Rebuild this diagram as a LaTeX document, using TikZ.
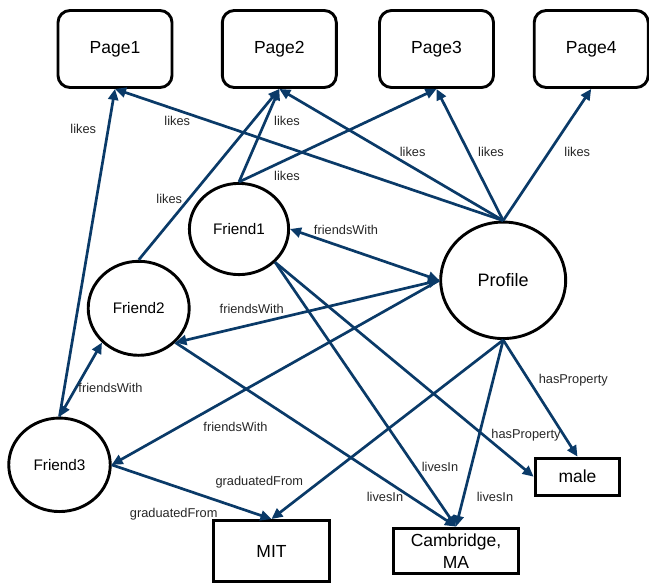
\documentclass[tikz,border=0pt]{standalone}
\usepackage{fontspec}
\setmainfont{Liberation Sans}
\usetikzlibrary{arrows.meta,shapes.geometric}
\definecolor{edgeblue}{RGB}{10,58,104}
\begin{document}
\begin{tikzpicture}[x=1pt,y=-1pt,
  page/.style={draw=black,line width=2.9pt,rounded corners=12pt,minimum width=114pt,minimum height=77pt,inner sep=0pt,font=\fontsize{17.5}{20}\selectfont},
  person/.style={draw=black,line width=2.9pt,ellipse,inner sep=0pt,font=\fontsize{15.3}{18}\selectfont},
  valbox/.style={draw=black,line width=2.9pt,rectangle,inner sep=0pt,align=center,font=\fontsize{17.5}{22}\selectfont},
  edge/.style={draw=edgeblue,line width=2.7pt},
  tip/.style={-{Triangle[length=11pt,width=10pt]}},
  both/.style={{Triangle[length=11pt,width=10pt]}-{Triangle[length=11pt,width=10pt]}},
  lbl/.style={inner sep=0pt,text=black!85,font=\fontsize{12.8}{14}\selectfont}
]
\useasboundingbox (0,0) rectangle (649,584);

% pages
\node[page] (p1) at (115,49) {Page1};
\node[page] (p2) at (279.3,49) {Page2};
\node[page] (p3) at (436.5,49) {Page3};
\node[page] (p4) at (591.2,49) {Page4};

% people
\node[person,minimum width=99.2pt,minimum height=91.2pt] (f1) at (239,229) {Friend1};
\node[person,minimum width=101pt,minimum height=94pt] (f2) at (138.7,308.3) {Friend2};
\node[person,minimum width=101.5pt,minimum height=93.5pt] (f3) at (59.5,464.8) {Friend3};
\node[person,minimum width=125pt,minimum height=116.5pt,font=\fontsize{18}{20}\selectfont] (pr) at (503.2,280.3) {Profile};

% values
\node[valbox,minimum width=116pt,minimum height=61pt] (mit) at (271.5,551) {MIT};
\node[valbox,minimum width=124.3pt,minimum height=45.5pt] (cam) at (456,550.8) {Cambridge,\\MA};
\node[valbox,minimum width=84.8pt,minimum height=37.2pt] (male) at (577.5,476.7) {male};

% likes
\draw[edge,tip] (f3.north) -- (p1.south);
\draw[edge,tip] (pr.north) -- (p1.south);
\draw[edge,tip] (f2.north) -- (p2.south);
\draw[edge,tip] (f1.north) -- (p2.south);
\draw[edge,tip] (pr.north) -- (p2.south);
\draw[edge,tip] (f1.north) -- (p3.south);
\draw[edge,tip] (pr.north) -- (p3.south);
\draw[edge,tip] (pr.north) -- (p4.south);

% friendsWith
\draw[edge,both] (f1.east) -- (pr.west);
\draw[edge,both] (f2.south east) -- (pr.west);
\draw[edge,both] (f3.north) -- (f2.south west);
\draw[edge,tip] (pr.west) -- (f3.east);

% graduatedFrom
\draw[edge,tip] (f3.east) -- (mit.north);
\draw[edge,tip] (pr.south) -- (mit.north);

% livesIn
\draw[edge,tip] (f2.south east) -- (cam.north);
\draw[edge,tip] (f1.south east) -- (cam.north);
\draw[edge,tip] (pr.south) -- (cam.north);

% hasProperty
\draw[edge,tip] (pr.south) -- (male.north);
\draw[edge,tip] (f1.south east) -- (male.west);

% labels
\node[lbl] (l1) at (83.3,128.7) {likes};
\node[lbl] (l2) at (177.3,120.7) {likes};
\node[lbl] (l3) at (287,120.7) {likes};
\node[lbl] (l4) at (287,175.7) {likes};
\node[lbl] (l5) at (169.3,199) {likes};
\node[lbl] (l6) at (412.7,152.3) {likes};
\node[lbl] (l7) at (491,152.3) {likes};
\node[lbl] (l8) at (577.3,152.3) {likes};
\node[lbl] (l9) at (346,230) {friendsWith};
\node[lbl] (l10) at (251.7,309) {friendsWith};
\node[lbl] (l11) at (110.5,388) {friendsWith};
\node[lbl] (l12) at (235.5,426.7) {friendsWith};
\node[lbl] (l13) at (173.7,514) {graduatedFrom};
\node[lbl] (l14) at (259.3,481.7) {graduatedFrom};
\node[lbl] (l15) at (385,497.3) {livesIn};
\node[lbl] (l16) at (440,466.7) {livesIn};
\node[lbl] (l17) at (495,497.3) {livesIn};
\node[lbl] (l18) at (573.3,379.7) {hasProperty};
\node[lbl] (l19) at (526,434.7) {hasProperty};
\end{tikzpicture}
\end{document}
